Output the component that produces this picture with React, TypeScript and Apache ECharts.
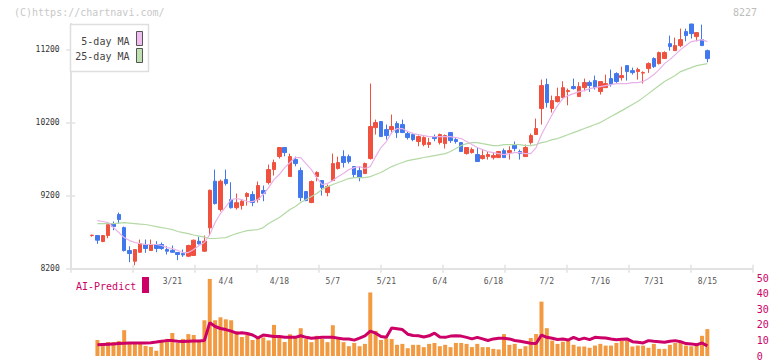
import React, { useEffect, useRef } from "react";
import * as echarts from "echarts";

const dates = [
  "2/27","2/28",
  "3/3","3/4","3/5","3/6","3/7","3/10","3/11","3/12","3/13","3/14","3/17","3/18","3/19","3/21","3/24","3/25","3/26","3/27","3/28","3/31",
  "4/1","4/2","4/3","4/4","4/7","4/8","4/9","4/10","4/11","4/14","4/15","4/16","4/17","4/18","4/21","4/22","4/23","4/24","4/25","4/28","4/30",
  "5/1","5/2","5/7","5/8","5/9","5/12","5/13","5/14","5/15","5/16","5/19","5/20","5/21","5/22","5/23","5/26","5/27","5/28","5/29","5/30",
  "6/2","6/3","6/4","6/5","6/6","6/9","6/10","6/11","6/12","6/13","6/16","6/17","6/18","6/19","6/20","6/23","6/24","6/25","6/26","6/27","6/30",
  "7/1","7/2","7/3","7/4","7/7","7/8","7/9","7/10","7/11","7/14","7/15","7/16","7/17","7/18","7/22","7/23","7/24","7/25","7/28","7/29","7/30","7/31",
  "8/1","8/4","8/5","8/6","8/7","8/8","8/12","8/13","8/14","8/15"
];

const labelDates = ["3/21","4/4","4/18","5/7","5/21","6/4","6/18","7/2","7/16","7/31","8/15"];

const opens = [8655,8656,8574,8656,8820,8944,8765,8450,8304,8427,8528,8450,8528,8533,8464,8454,8423,8409,8372,8382,8578,8441,8761,9400,9012,9423,9149,9037,9067,9190,9218,9149,9272,9382,9560,9738,9862,9464,9697,9546,9259,9108,9464,9410,9245,9410,9574,9738,9738,9601,9546,9505,9711,10135,10218,10108,10108,10190,10177,10053,10040,9944,9903,9903,10012,9930,9916,10067,9971,9930,9779,9793,9766,9711,9738,9724,9724,9820,9793,9903,9807,9738,9930,10040,10396,10725,10396,10492,10546,10629,10697,10560,10683,10752,10779,10629,10683,10807,10875,10820,10985,10916,10903,10882,10944,11081,11012,11081,11286,11190,11259,11451,11555,11382,11341,11190];
const closes = [8660,8592,8656,8807,8779,8875,8450,8409,8464,8546,8478,8528,8478,8478,8441,8427,8396,8391,8519,8592,8542,8578,9276,9094,9400,9368,9037,9106,9126,9231,9108,9341,9231,9560,9656,9862,9793,9738,9642,9176,9135,9396,9519,9313,9327,9642,9656,9656,9670,9492,9450,9642,10149,10204,10012,10026,10149,10067,10067,9999,9971,10012,9999,9930,9985,10040,10026,9957,9944,9807,9862,9834,9670,9752,9766,9752,9807,9724,9820,9848,9779,9862,10026,10122,10711,10478,10505,10560,10683,10642,10670,10697,10752,10711,10683,10766,10738,10725,10766,10848,10903,10889,10930,10889,11012,10971,11163,11163,11245,11259,11341,11396,11423,11437,11259,11081];
const lows = [8640,8542,8564,8619,8728,8820,8437,8290,8249,8420,8419,8445,8427,8460,8396,8419,8318,8364,8360,8375,8533,8430,8656,9081,8985,9341,9026,9012,9012,9067,9057,9108,9126,9355,9478,9711,9742,9464,9605,9126,9126,9100,9400,9204,9194,9400,9560,9588,9642,9446,9400,9500,9697,10040,10010,9971,10053,9994,10063,9971,9948,9879,9879,9857,9948,9903,9848,9926,9916,9800,9766,9779,9670,9697,9697,9697,9720,9720,9697,9811,9697,9735,9903,10035,10177,10410,10341,10478,10540,10441,10656,10556,10633,10624,10656,10588,10683,10697,10748,10779,10779,10862,10793,10738,10885,10953,10999,11077,11190,11190,11236,11318,11355,11318,11259,11030];
const highs = [8670,8660,8660,8830,8848,8971,8779,8509,8464,8601,8601,8601,8578,8560,8509,8519,8427,8464,8530,8600,8638,8656,9286,9560,9423,9560,9386,9231,9149,9249,9263,9396,9341,9629,9697,9870,9870,9779,9738,9588,9263,9410,9537,9415,9355,9779,9738,9824,9766,9605,9605,9656,10738,10245,10225,10177,10314,10222,10245,10085,10063,10026,10016,9994,10040,10053,10040,10070,9999,9935,9865,9862,9862,9834,9811,9793,9811,9848,9879,9944,9834,9903,10053,10259,10793,10807,10574,10683,10770,10670,10807,10756,10807,10779,10848,10770,10862,10930,10893,10971,10990,10957,10957,10907,11030,11099,11177,11181,11396,11368,11492,11492,11555,11440,11546,11204];

const ma5 = [null,8861,8848,8834,8765,8697,8628,8587,8560,8546,8533,8533,8533,8519,8491,8478,8450,8423,8423,8464,8519,8560,8670,8834,8957,9053,9149,9163,9149,9122,9122,9149,9218,9313,9423,9492,9587,9656,9725,9725,9642,9560,9450,9355,9368,9410,9464,9505,9560,9587,9601,9574,9601,9738,9862,9944,10067,10122,10122,10081,10053,10040,10026,10012,10012,10012,10012,10012,9999,9985,9944,9903,9862,9834,9807,9793,9779,9766,9779,9793,9793,9779,9779,9862,10040,10177,10314,10437,10533,10574,10601,10629,10642,10670,10683,10697,10711,10725,10738,10738,10738,10752,10752,10766,10807,10862,10930,11012,11067,11136,11204,11259,11314,11327,11341,11314];
const ma25 = [null,8820,8820,8820,8820,8827,8834,8827,8820,8813,8807,8793,8779,8765,8752,8738,8711,8697,8683,8663,8649,8635,8615,8615,8622,8628,8656,8683,8704,8724,8731,8738,8765,8820,8861,8902,8957,9012,9053,9108,9149,9190,9231,9286,9327,9355,9382,9410,9437,9450,9450,9450,9464,9492,9519,9560,9601,9629,9656,9683,9697,9711,9725,9738,9752,9766,9779,9807,9848,9889,9916,9930,9930,9916,9903,9889,9889,9903,9903,9903,9903,9889,9889,9903,9930,9944,9971,9985,10012,10040,10067,10094,10122,10149,10177,10204,10245,10286,10327,10368,10409,10451,10492,10546,10601,10656,10711,10766,10807,10848,10903,10930,10957,10985,10999,11012];

const aiBars = [null,10.3,8.4,9,9,9.7,16.6,8.4,9,9,6.5,5.9,3.4,10.3,11,14.8,8.4,11,14.1,13.5,10.3,23,49.6,23,24.9,23.6,23,16,12.2,13.5,10.3,11.6,12,10,20,13,9,14,12,17.9,10.9,8.9,13,10.9,8.9,19.8,12,8.9,6.3,8.4,6.3,7.8,40.9,16.2,10.3,11.4,10.9,7.2,7.8,5,7.2,7.2,5.7,7.8,8.4,6.3,7.2,5.7,8.4,8.4,7.8,5.7,7.8,5.7,5.7,4.6,4.2,14.1,7.2,7.8,4.6,6.3,11.6,14.1,35,17.9,9.9,7.8,9.2,9.9,7.2,6.1,6.1,5.3,6.7,7.8,6.7,6.7,8.4,9.9,9.9,6.1,6.7,6.7,5.3,7.8,4.6,4.6,7.2,8.4,8.4,6.7,6.3,8.4,13,17.3];
const aiLine = [null,7.2,7.4,7.6,7.8,8,8.2,8.4,8.4,8.4,8.4,8.6,9,9.5,9.9,9.9,9.5,9.3,9.5,9.7,9.7,10,21.5,19,17.7,17,16,14.7,15,14.5,13.5,11.6,13.5,13,12.5,12.5,12,12,12,13,12,11.4,11.8,12,12,12,11.5,10.9,10.9,10.2,11.5,13,16,14.7,12.5,12,18,17.5,17,14,13.2,13,12.2,13,14.7,12.2,12,12.8,13,12.8,12,11,12,11,10,11,11.4,11.4,11,10,9.5,8.9,8.2,8,13.5,12,11.4,10.6,10.9,10.3,12,10.5,11.5,10.5,12,11.8,11.6,11,10.5,10.8,11,9.2,8.8,8.4,9.9,9.5,9.2,8.8,9.5,9.9,9.2,8,7.8,7.2,8.4,6.5];

const priceTicks = [8200, 9200, 10200, 11200];
const aiTicks = [0, 10, 20, 30, 40, 50];
const trailingSlots = ["+1","+2","+3","+4","+5","+6","+7","+8"];

const RED = "#f0513f";
const BLUE = "#4178ee";
const PINK = "#e8b2e9";
const GREEN = "#b3d9a4";
const ORANGE = "#f29a41";
const CRIMSON = "#cc0066";
const AXIS = "#e2e2e2";
const MONO = '"DejaVu Sans Mono", monospace';

export default function App() {
  const ref = useRef<HTMLDivElement>(null);
  useEffect(() => {
    document.body.style.margin = "0";
    const chart = echarts.init(ref.current as HTMLDivElement, undefined, { renderer: "svg" });
    const cats = dates.concat(trailingSlots);
    const candles = dates.map((_, i) => [opens[i], closes[i], lows[i], highs[i]]);
    const plain = (v: number) => String(v);
    const option: any = {
      animation: false,
      backgroundColor: "#ffffff",
      grid: [
        { left: 70.7, top: 24, width: 681.8, height: 244.8 },
        { left: 89.4, top: 24, width: 663.4, height: 244.8 },
        { left: 89.4, top: 278.3, width: 663.4, height: 79 },
      ],
      xAxis: [
        {
          type: "value", gridIndex: 0, position: "bottom", min: 0, max: 11, interval: 1,
          axisLine: { show: true, lineStyle: { color: AXIS, width: 2 } },
          axisTick: { show: true, length: 4, lineStyle: { color: AXIS, width: 1.5 } },
          axisLabel: { show: false }, splitLine: { show: false },
        },
        {
          type: "value", gridIndex: 0, position: "bottom", min: 0, max: 11, interval: 1,
          axisLine: { show: false },
          axisTick: { show: true, inside: true, length: 4, lineStyle: { color: AXIS, width: 1.5 } },
          axisLabel: { show: false }, splitLine: { show: false },
        },
        {
          type: "category", gridIndex: 1, position: "bottom", data: cats, boundaryGap: true,
          axisLine: { show: false }, axisTick: { show: false }, splitLine: { show: false },
          axisLabel: {
            interval: (_i: number, v: string) => labelDates.includes(v),
            color: "#555", fontSize: 8, fontFamily: MONO, margin: 9,
          },
        },
        { type: "category", gridIndex: 2, data: cats, boundaryGap: true, show: false },
      ],
      yAxis: [
        {
          type: "value", gridIndex: 0, position: "left", min: 8200, max: 11555,
          axisLine: { show: true, lineStyle: { color: AXIS, width: 2 } },
          axisTick: { show: true, length: 4.5, customValues: priceTicks, lineStyle: { color: AXIS, width: 1.5 } },
          axisLabel: { customValues: priceTicks, formatter: plain, color: "#333", fontSize: 8, fontFamily: MONO, margin: 11 },
          splitLine: { show: false },
        },
        {
          type: "value", gridIndex: 0, position: "left", min: 8200, max: 11555,
          axisLine: { show: false },
          axisTick: { show: true, inside: true, length: 4.5, customValues: priceTicks, lineStyle: { color: AXIS, width: 1.5 } },
          axisLabel: { show: false }, splitLine: { show: false },
        },
        { type: "value", gridIndex: 1, min: 8200, max: 11555, show: false },
        {
          type: "value", gridIndex: 2, position: "right", min: 0, max: 50, interval: 10,
          axisLine: { show: false }, axisTick: { show: false }, splitLine: { show: false },
          axisLabel: { customValues: aiTicks, formatter: plain, color: CRIMSON, fontSize: 10, fontFamily: MONO, margin: 4 },
        },
      ],
      series: [
        {
          type: "line", xAxisIndex: 2, yAxisIndex: 2, data: ma25, showSymbol: false, silent: true,
          lineStyle: { color: GREEN, width: 1.2 },
        },
        {
          type: "line", xAxisIndex: 2, yAxisIndex: 2, data: ma5, showSymbol: false, silent: true,
          lineStyle: { color: PINK, width: 1.2 },
        },
        {
          type: "candlestick", xAxisIndex: 2, yAxisIndex: 2, data: candles, barWidth: 4,
          itemStyle: { color: RED, color0: BLUE, borderColor: RED, borderColor0: BLUE, borderWidth: 1 },
        },
        {
          type: "bar", xAxisIndex: 3, yAxisIndex: 3, data: aiBars, barWidth: 4, silent: true,
          itemStyle: { color: ORANGE },
        },
        {
          type: "line", xAxisIndex: 3, yAxisIndex: 3, data: aiLine, showSymbol: false, silent: true,
          lineStyle: { color: CRIMSON, width: 3 }, z: 5,
        },
      ],
      graphic: [
        { type: "text", x: 14, y: 12, z: 100, style: { text: "(C)https://chartnavi.com/", fill: "#c8c8c8", font: `10px ${MONO}`, verticalAlign: "middle" } },
        { type: "text", x: 757, y: 12, z: 100, style: { text: "8227", fill: "#bdbdbd", font: `10px ${MONO}`, align: "right", verticalAlign: "middle" } },
        { type: "rect", z: 100, shape: { x: 70.5, y: 24.5, width: 78, height: 47 }, style: { fill: "#fff", stroke: "#dedede", lineWidth: 1.5 } },
        { type: "text", x: 129.5, y: 41, z: 101, style: { text: "5-day MA", fill: "#444", font: `10px ${MONO}`, align: "right", verticalAlign: "middle" } },
        { type: "text", x: 129.5, y: 56.5, z: 101, style: { text: "25-day MA", fill: "#444", font: `10px ${MONO}`, align: "right", verticalAlign: "middle" } },
        { type: "rect", z: 101, shape: { x: 136.5, y: 31.5, width: 6, height: 14 }, style: { fill: "#efbdef", stroke: "#555", lineWidth: 1 } },
        { type: "rect", z: 101, shape: { x: 136.5, y: 48.5, width: 6, height: 14 }, style: { fill: "#bfe0b0", stroke: "#555", lineWidth: 1 } },
        { type: "text", x: 76, y: 286, z: 100, style: { text: "AI-Predict", fill: CRIMSON, font: `10px ${MONO}`, verticalAlign: "middle" } },
        { type: "rect", z: 100, shape: { x: 142, y: 277, width: 7, height: 16 }, style: { fill: CRIMSON } },
      ],
    };
    chart.setOption(option);
    return () => chart.dispose();
  }, []);
  return <div ref={ref} style={{ position: "absolute", left: 0, top: 0, width: 772, height: 361 }} />;
}
